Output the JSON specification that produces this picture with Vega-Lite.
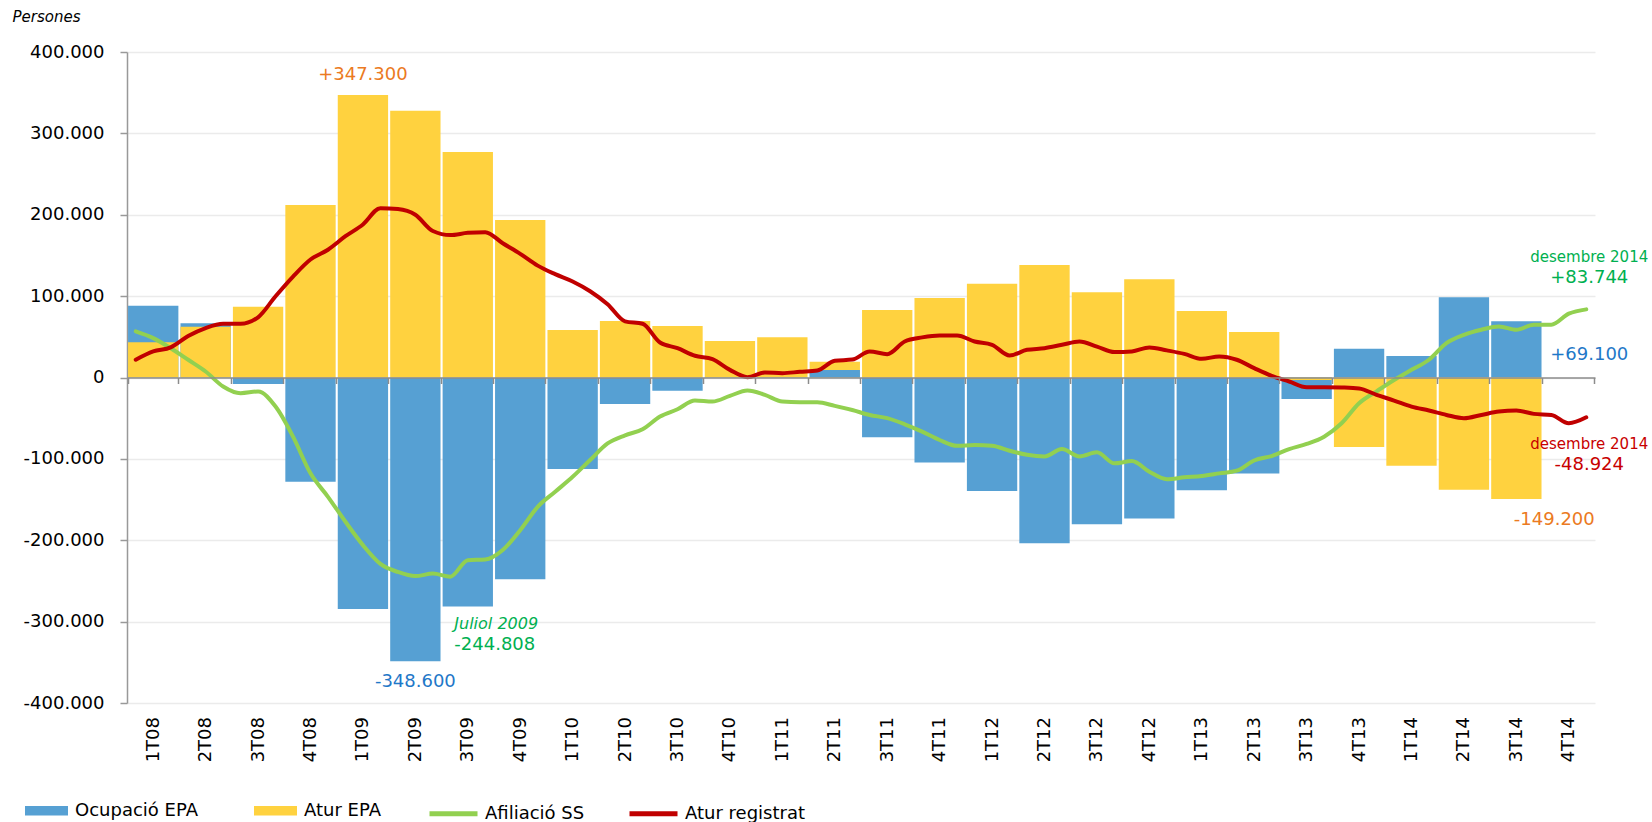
{
  "$schema": "https://vega.github.io/schema/vega-lite/v6.json",
  "width": 1468,
  "height": 651,
  "autosize": {"type": "none"},
  "padding": {"left": 127, "top": 52, "right": 57, "bottom": 119},
  "background": "white",
  "config": {
    "view": {"stroke": null},
    "font": "DejaVu Sans",
    "axis": {"labelFont": "DejaVu Sans", "labelFontSize": 18, "labelColor": "#000000", "titleFont": "DejaVu Sans"},
    "legend": {"labelFont": "DejaVu Sans", "labelFontSize": 18, "labelColor": "#000000"}
  },
  "layer": [
    {
      "layer": [
        {
          "data": {"values": [
            {"trimestre":"1T08","serie":"Ocupació EPA","valor":88200},{"trimestre":"1T08","serie":"Atur EPA","valor":43200},
            {"trimestre":"2T08","serie":"Ocupació EPA","valor":66600},{"trimestre":"2T08","serie":"Atur EPA","valor":62400},
            {"trimestre":"3T08","serie":"Ocupació EPA","valor":-8000},{"trimestre":"3T08","serie":"Atur EPA","valor":87000},
            {"trimestre":"4T08","serie":"Ocupació EPA","valor":-128000},{"trimestre":"4T08","serie":"Atur EPA","valor":212000},
            {"trimestre":"1T09","serie":"Ocupació EPA","valor":-284400},{"trimestre":"1T09","serie":"Atur EPA","valor":347300},
            {"trimestre":"2T09","serie":"Ocupació EPA","valor":-348600},{"trimestre":"2T09","serie":"Atur EPA","valor":327800},
            {"trimestre":"3T09","serie":"Ocupació EPA","valor":-281500},{"trimestre":"3T09","serie":"Atur EPA","valor":277000},
            {"trimestre":"4T09","serie":"Ocupació EPA","valor":-248000},{"trimestre":"4T09","serie":"Atur EPA","valor":193500},
            {"trimestre":"1T10","serie":"Ocupació EPA","valor":-112400},{"trimestre":"1T10","serie":"Atur EPA","valor":58400},
            {"trimestre":"2T10","serie":"Ocupació EPA","valor":-32500},{"trimestre":"2T10","serie":"Atur EPA","valor":69400},
            {"trimestre":"3T10","serie":"Ocupació EPA","valor":-16200},{"trimestre":"3T10","serie":"Atur EPA","valor":63300},
            {"trimestre":"4T10","serie":"Ocupació EPA","valor":-500},{"trimestre":"4T10","serie":"Atur EPA","valor":44800},
            {"trimestre":"1T11","serie":"Ocupació EPA","valor":500},{"trimestre":"1T11","serie":"Atur EPA","valor":49400},
            {"trimestre":"2T11","serie":"Atur EPA","valor":19400},{"trimestre":"2T11","serie":"Ocupació EPA","valor":9200},
            {"trimestre":"3T11","serie":"Ocupació EPA","valor":-73500},{"trimestre":"3T11","serie":"Atur EPA","valor":83000},
            {"trimestre":"4T11","serie":"Ocupació EPA","valor":-104600},{"trimestre":"4T11","serie":"Atur EPA","valor":97700},
            {"trimestre":"1T12","serie":"Ocupació EPA","valor":-139400},{"trimestre":"1T12","serie":"Atur EPA","valor":115200},
            {"trimestre":"2T12","serie":"Ocupació EPA","valor":-203700},{"trimestre":"2T12","serie":"Atur EPA","valor":138200},
            {"trimestre":"3T12","serie":"Ocupació EPA","valor":-180400},{"trimestre":"3T12","serie":"Atur EPA","valor":104700},
            {"trimestre":"4T12","serie":"Ocupació EPA","valor":-173400},{"trimestre":"4T12","serie":"Atur EPA","valor":120600},
            {"trimestre":"1T13","serie":"Ocupació EPA","valor":-138600},{"trimestre":"1T13","serie":"Atur EPA","valor":81700},
            {"trimestre":"2T13","serie":"Ocupació EPA","valor":-118100},{"trimestre":"2T13","serie":"Atur EPA","valor":55900},
            {"trimestre":"3T13","serie":"Ocupació EPA","valor":-26400},{"trimestre":"3T13","serie":"Atur EPA","valor":-3000},
            {"trimestre":"4T13","serie":"Ocupació EPA","valor":35400},{"trimestre":"4T13","serie":"Atur EPA","valor":-85400},
            {"trimestre":"1T14","serie":"Ocupació EPA","valor":26400},{"trimestre":"1T14","serie":"Atur EPA","valor":-108300},
            {"trimestre":"2T14","serie":"Ocupació EPA","valor":98500},{"trimestre":"2T14","serie":"Atur EPA","valor":-137800},
            {"trimestre":"3T14","serie":"Ocupació EPA","valor":69100},{"trimestre":"3T14","serie":"Atur EPA","valor":-149200}
          ]},
          "mark": {"type": "bar"},
          "encoding": {
            "x": {
              "field": "trimestre", "type": "nominal",
              "scale": {"domain": ["1T08","2T08","3T08","4T08","1T09","2T09","3T09","4T09","1T10","2T10","3T10","4T10","1T11","2T11","3T11","4T11","1T12","2T12","3T12","4T12","1T13","2T13","3T13","4T13","1T14","2T14","3T14","4T14"], "paddingInner": 0.04, "paddingOuter": 0.02},
              "axis": {"title": null, "orient": "bottom", "offset": -325.5, "domainColor": "#8c8c8c", "domainWidth": 1.5, "tickColor": "#8c8c8c", "tickWidth": 1.5, "tickSize": 6, "tickBand": "extent", "labelAngle": -90, "labelAlign": "right", "labelBaseline": "middle", "labelPadding": 333, "labelFont": "DejaVu Sans", "labelFontSize": 18, "labelColor": "#000000", "labelOverlap": false, "zindex": 1, "grid": false}
            },
            "y": {
              "field": "valor", "type": "quantitative", "stack": null,
              "scale": {"domain": [-400000, 400000], "nice": false, "zero": false},
              "axis": {"values": [-400000,-300000,-200000,-100000,0,100000,200000,300000,400000], "labelExpr": "(datum.value < 0 ? '-' : '') + replace(format(abs(datum.value), ','), ',', '.')", "title": "Persones", "titleAngle": 0, "titleAlign": "left", "titleBaseline": "alphabetic", "titleX": -115, "titleY": -31, "titleFontSize": 15, "titleFontStyle": "italic", "titleFontWeight": "normal", "titleColor": "#000000", "labelPadding": 16, "tickSize": 7, "tickColor": "#999999", "tickWidth": 1.5, "domainColor": "#999999", "domainWidth": 1.5, "grid": true, "gridColor": "#ebebeb", "gridWidth": 1.5}
            },
            "fill": {
              "field": "serie", "type": "nominal",
              "scale": {"domain": ["Ocupació EPA", "Atur EPA"], "range": ["#56A0D3", "#FFD23F"]},
              "legend": {"title": null, "orient": "none", "legendX": -102, "legendY": 737, "direction": "horizontal", "symbolType": "M-1,-0.22H1V0.22H-1Z", "symbolSize": 1849, "symbolStrokeWidth": 0, "symbolOpacity": 1, "labelOffset": 7, "columnPadding": 56, "padding": 0, "labelFontSize": 18, "labelFont": "DejaVu Sans", "labelColor": "#000000"}
            }
          }
        },
        {
          "data": {"values": [
            {"text": "+347.300", "trimestre": "1T09", "valor": 372000, "serie": "Atur EPA"},
            {"text": "-348.600", "trimestre": "2T09", "valor": -374400, "serie": "Ocupació EPA"}
          ]},
          "mark": {"type": "text", "font": "DejaVu Sans", "fontSize": 18, "baseline": "middle", "align": "center"},
          "encoding": {
            "x": {"field": "trimestre", "type": "nominal"},
            "y": {"field": "valor", "type": "quantitative"},
            "text": {"field": "text"},
            "color": {"field": "serie", "type": "nominal", "scale": {"domain": ["Ocupació EPA", "Atur EPA", "Afiliació SS", "Atur registrat"], "range": ["#1F78C8", "#EB7A22", "#00B050", "#C80000"]}, "legend": null}
          }
        }
      ]
    },
    {
      "layer": [
        {
          "data": {"values": [
            {"mes":"2008-01","serie":"Afiliació SS","valor":56700},{"mes":"2008-02","serie":"Afiliació SS","valor":48400},{"mes":"2008-03","serie":"Afiliació SS","valor":36000},{"mes":"2008-04","serie":"Afiliació SS","valor":21800},{"mes":"2008-05","serie":"Afiliació SS","valor":7400},{"mes":"2008-06","serie":"Afiliació SS","valor":-11000},{"mes":"2008-07","serie":"Afiliació SS","valor":-19300},{"mes":"2008-08","serie":"Afiliació SS","valor":-17200},{"mes":"2008-09","serie":"Afiliació SS","valor":-35700},{"mes":"2008-10","serie":"Afiliació SS","valor":-72700},{"mes":"2008-11","serie":"Afiliació SS","valor":-117800},{"mes":"2008-12","serie":"Afiliació SS","valor":-146600},
            {"mes":"2009-01","serie":"Afiliació SS","valor":-177300},{"mes":"2009-02","serie":"Afiliació SS","valor":-206000},{"mes":"2009-03","serie":"Afiliació SS","valor":-229000},{"mes":"2009-04","serie":"Afiliació SS","valor":-239000},{"mes":"2009-05","serie":"Afiliació SS","valor":-244000},{"mes":"2009-06","serie":"Afiliació SS","valor":-241000},{"mes":"2009-07","serie":"Afiliació SS","valor":-244808},{"mes":"2009-08","serie":"Afiliació SS","valor":-224500},{"mes":"2009-09","serie":"Afiliació SS","valor":-223700},{"mes":"2009-10","serie":"Afiliació SS","valor":-212000},{"mes":"2009-11","serie":"Afiliació SS","valor":-187600},{"mes":"2009-12","serie":"Afiliació SS","valor":-158900},
            {"mes":"2010-01","serie":"Afiliació SS","valor":-140400},{"mes":"2010-02","serie":"Afiliació SS","valor":-122000},{"mes":"2010-03","serie":"Afiliació SS","valor":-101400},{"mes":"2010-04","serie":"Afiliació SS","valor":-81000},{"mes":"2010-05","serie":"Afiliació SS","valor":-71000},{"mes":"2010-06","serie":"Afiliació SS","valor":-63600},{"mes":"2010-07","serie":"Afiliació SS","valor":-48000},{"mes":"2010-08","serie":"Afiliació SS","valor":-39000},{"mes":"2010-09","serie":"Afiliació SS","valor":-28300},{"mes":"2010-10","serie":"Afiliació SS","valor":-29600},{"mes":"2010-11","serie":"Afiliació SS","valor":-22600},{"mes":"2010-12","serie":"Afiliació SS","valor":-16000},
            {"mes":"2011-01","serie":"Afiliació SS","valor":-21300},{"mes":"2011-02","serie":"Afiliació SS","valor":-29600},{"mes":"2011-03","serie":"Afiliació SS","valor":-30400},{"mes":"2011-04","serie":"Afiliació SS","valor":-30400},{"mes":"2011-05","serie":"Afiliació SS","valor":-34900},{"mes":"2011-06","serie":"Afiliació SS","valor":-40000},{"mes":"2011-07","serie":"Afiliació SS","valor":-46000},{"mes":"2011-08","serie":"Afiliació SS","valor":-50000},{"mes":"2011-09","serie":"Afiliació SS","valor":-57500},{"mes":"2011-10","serie":"Afiliació SS","valor":-66500},{"mes":"2011-11","serie":"Afiliació SS","valor":-76800},{"mes":"2011-12","serie":"Afiliació SS","valor":-84000},
            {"mes":"2012-01","serie":"Afiliació SS","valor":-83000},{"mes":"2012-02","serie":"Afiliació SS","valor":-84000},{"mes":"2012-03","serie":"Afiliació SS","valor":-90000},{"mes":"2012-04","serie":"Afiliació SS","valor":-95000},{"mes":"2012-05","serie":"Afiliació SS","valor":-97000},{"mes":"2012-06","serie":"Afiliació SS","valor":-88000},{"mes":"2012-07","serie":"Afiliació SS","valor":-97000},{"mes":"2012-08","serie":"Afiliació SS","valor":-92000},{"mes":"2012-09","serie":"Afiliació SS","valor":-105500},{"mes":"2012-10","serie":"Afiliació SS","valor":-102600},{"mes":"2012-11","serie":"Afiliació SS","valor":-115800},{"mes":"2012-12","serie":"Afiliació SS","valor":-125000},
            {"mes":"2013-01","serie":"Afiliació SS","valor":-122700},{"mes":"2013-02","serie":"Afiliació SS","valor":-121000},{"mes":"2013-03","serie":"Afiliació SS","valor":-117800},{"mes":"2013-04","serie":"Afiliació SS","valor":-114500},{"mes":"2013-05","serie":"Afiliació SS","valor":-102000},{"mes":"2013-06","serie":"Afiliació SS","valor":-96500},{"mes":"2013-07","serie":"Afiliació SS","valor":-88000},{"mes":"2013-08","serie":"Afiliació SS","valor":-81700},{"mes":"2013-09","serie":"Afiliació SS","valor":-72700},{"mes":"2013-10","serie":"Afiliació SS","valor":-56200},{"mes":"2013-11","serie":"Afiliació SS","valor":-31600},{"mes":"2013-12","serie":"Afiliació SS","valor":-17000},
            {"mes":"2014-01","serie":"Afiliació SS","valor":-3000},{"mes":"2014-02","serie":"Afiliació SS","valor":9400},{"mes":"2014-03","serie":"Afiliació SS","valor":21800},{"mes":"2014-04","serie":"Afiliació SS","valor":42300},{"mes":"2014-05","serie":"Afiliació SS","valor":52500},{"mes":"2014-06","serie":"Afiliació SS","valor":58700},{"mes":"2014-07","serie":"Afiliació SS","valor":62800},{"mes":"2014-08","serie":"Afiliació SS","valor":58700},{"mes":"2014-09","serie":"Afiliació SS","valor":64900},{"mes":"2014-10","serie":"Afiliació SS","valor":64900},{"mes":"2014-11","serie":"Afiliació SS","valor":78400},{"mes":"2014-12","serie":"Afiliació SS","valor":83744},
            {"mes":"2008-01","serie":"Atur registrat","valor":21800},{"mes":"2008-02","serie":"Atur registrat","valor":32000},{"mes":"2008-03","serie":"Atur registrat","valor":37000},{"mes":"2008-04","serie":"Atur registrat","valor":51000},{"mes":"2008-05","serie":"Atur registrat","valor":60800},{"mes":"2008-06","serie":"Atur registrat","valor":66000},{"mes":"2008-07","serie":"Atur registrat","valor":66000},{"mes":"2008-08","serie":"Atur registrat","valor":74000},{"mes":"2008-09","serie":"Atur registrat","valor":99800},{"mes":"2008-10","serie":"Atur registrat","valor":124000},{"mes":"2008-11","serie":"Atur registrat","valor":145000},{"mes":"2008-12","serie":"Atur registrat","valor":157000},
            {"mes":"2009-01","serie":"Atur registrat","valor":173600},{"mes":"2009-02","serie":"Atur registrat","valor":188000},{"mes":"2009-03","serie":"Atur registrat","valor":208000},{"mes":"2009-04","serie":"Atur registrat","valor":207000},{"mes":"2009-05","serie":"Atur registrat","valor":200000},{"mes":"2009-06","serie":"Atur registrat","valor":180000},{"mes":"2009-07","serie":"Atur registrat","valor":175000},{"mes":"2009-08","serie":"Atur registrat","valor":177800},{"mes":"2009-09","serie":"Atur registrat","valor":178600},{"mes":"2009-10","serie":"Atur registrat","valor":165000},{"mes":"2009-11","serie":"Atur registrat","valor":152000},{"mes":"2009-12","serie":"Atur registrat","valor":137500},
            {"mes":"2010-01","serie":"Atur registrat","valor":127000},{"mes":"2010-02","serie":"Atur registrat","valor":118000},{"mes":"2010-03","serie":"Atur registrat","valor":106000},{"mes":"2010-04","serie":"Atur registrat","valor":90000},{"mes":"2010-05","serie":"Atur registrat","valor":69000},{"mes":"2010-06","serie":"Atur registrat","valor":66000},{"mes":"2010-07","serie":"Atur registrat","valor":43000},{"mes":"2010-08","serie":"Atur registrat","valor":36000},{"mes":"2010-09","serie":"Atur registrat","valor":26700},{"mes":"2010-10","serie":"Atur registrat","valor":22600},{"mes":"2010-11","serie":"Atur registrat","valor":9400},{"mes":"2010-12","serie":"Atur registrat","valor":400},
            {"mes":"2011-01","serie":"Atur registrat","valor":6200},{"mes":"2011-02","serie":"Atur registrat","valor":5300},{"mes":"2011-03","serie":"Atur registrat","valor":7000},{"mes":"2011-04","serie":"Atur registrat","valor":8600},{"mes":"2011-05","serie":"Atur registrat","valor":20500},{"mes":"2011-06","serie":"Atur registrat","valor":22000},{"mes":"2011-07","serie":"Atur registrat","valor":32000},{"mes":"2011-08","serie":"Atur registrat","valor":28700},{"mes":"2011-09","serie":"Atur registrat","valor":44300},{"mes":"2011-10","serie":"Atur registrat","valor":49300},{"mes":"2011-11","serie":"Atur registrat","valor":51700},{"mes":"2011-12","serie":"Atur registrat","valor":51700},
            {"mes":"2012-01","serie":"Atur registrat","valor":44300},{"mes":"2012-02","serie":"Atur registrat","valor":40200},{"mes":"2012-03","serie":"Atur registrat","valor":27000},{"mes":"2012-04","serie":"Atur registrat","valor":34000},{"mes":"2012-05","serie":"Atur registrat","valor":36000},{"mes":"2012-06","serie":"Atur registrat","valor":40200},{"mes":"2012-07","serie":"Atur registrat","valor":44300},{"mes":"2012-08","serie":"Atur registrat","valor":38000},{"mes":"2012-09","serie":"Atur registrat","valor":31200},{"mes":"2012-10","serie":"Atur registrat","valor":32000},{"mes":"2012-11","serie":"Atur registrat","valor":37000},{"mes":"2012-12","serie":"Atur registrat","valor":33300},
            {"mes":"2013-01","serie":"Atur registrat","valor":29000},{"mes":"2013-02","serie":"Atur registrat","valor":23000},{"mes":"2013-03","serie":"Atur registrat","valor":25900},{"mes":"2013-04","serie":"Atur registrat","valor":21800},{"mes":"2013-05","serie":"Atur registrat","valor":11500},{"mes":"2013-06","serie":"Atur registrat","valor":2000},{"mes":"2013-07","serie":"Atur registrat","valor":-4900},{"mes":"2013-08","serie":"Atur registrat","valor":-11900},{"mes":"2013-09","serie":"Atur registrat","valor":-11900},{"mes":"2013-10","serie":"Atur registrat","valor":-12300},{"mes":"2013-11","serie":"Atur registrat","valor":-13500},{"mes":"2013-12","serie":"Atur registrat","valor":-21300},
            {"mes":"2014-01","serie":"Atur registrat","valor":-28300},{"mes":"2014-02","serie":"Atur registrat","valor":-35700},{"mes":"2014-03","serie":"Atur registrat","valor":-40600},{"mes":"2014-04","serie":"Atur registrat","valor":-46000},{"mes":"2014-05","serie":"Atur registrat","valor":-50000},{"mes":"2014-06","serie":"Atur registrat","valor":-46000},{"mes":"2014-07","serie":"Atur registrat","valor":-41900},{"mes":"2014-08","serie":"Atur registrat","valor":-40600},{"mes":"2014-09","serie":"Atur registrat","valor":-44700},{"mes":"2014-10","serie":"Atur registrat","valor":-46000},{"mes":"2014-11","serie":"Atur registrat","valor":-56200},{"mes":"2014-12","serie":"Atur registrat","valor":-48924}
          ]},
          "mark": {"type": "line", "strokeWidth": 4, "interpolate": "monotone", "strokeCap": "round", "strokeJoin": "round"},
          "encoding": {
            "x": {"field": "mes", "type": "ordinal", "scale": {"type": "point", "padding": 0.5}, "axis": null},
            "y": {"field": "valor", "type": "quantitative"},
            "stroke": {
              "field": "serie", "type": "nominal",
              "scale": {"domain": ["Afiliació SS", "Atur registrat"], "range": ["#92D050", "#C00000"]},
              "legend": {"title": null, "orient": "none", "legendX": 300, "legendY": 735, "direction": "horizontal", "symbolType": "stroke", "symbolSize": 2304, "symbolStrokeWidth": 5, "labelOffset": 5, "columnPadding": 34, "padding": 0, "labelFontSize": 18, "labelFont": "DejaVu Sans", "labelColor": "#000000"}
            }
          }
        },
        {
          "data": {"values": [
            {"text": "+83.744", "mes": "2014-12", "valor": 122000, "serie": "Afiliació SS"},
            {"text": "+69.100", "mes": "2014-12", "valor": 27600, "serie": "Ocupació EPA"},
            {"text": "-48.924", "mes": "2014-12", "valor": -107800, "serie": "Atur registrat"},
            {"text": "-149.200", "mes": "2014-10", "valor": -175000, "serie": "Atur EPA"}
          ]},
          "mark": {"type": "text", "font": "DejaVu Sans", "fontSize": 18, "baseline": "middle", "align": "center", "dx": 3},
          "encoding": {
            "x": {"field": "mes", "type": "ordinal", "axis": null},
            "y": {"field": "valor", "type": "quantitative"},
            "text": {"field": "text"},
            "color": {"field": "serie", "type": "nominal", "legend": null}
          }
        },
        {
          "data": {"values": [
            {"text": "desembre 2014", "mes": "2014-12", "valor": 147600, "serie": "Afiliació SS"},
            {"text": "desembre 2014", "mes": "2014-12", "valor": -82300, "serie": "Atur registrat"}
          ]},
          "mark": {"type": "text", "font": "DejaVu Sans", "fontSize": 15, "baseline": "middle", "align": "center", "dx": 3},
          "encoding": {
            "x": {"field": "mes", "type": "ordinal", "axis": null},
            "y": {"field": "valor", "type": "quantitative"},
            "text": {"field": "text"},
            "color": {"field": "serie", "type": "nominal", "legend": null}
          }
        },
        {
          "data": {"values": [
            {"text": "Juliol 2009", "mes": "2009-07", "valor": -302500, "serie": "Afiliació SS"}
          ]},
          "mark": {"type": "text", "font": "DejaVu Sans", "fontSize": 16, "fontStyle": "italic", "baseline": "middle", "align": "left", "dx": 4},
          "encoding": {
            "x": {"field": "mes", "type": "ordinal", "axis": null},
            "y": {"field": "valor", "type": "quantitative"},
            "text": {"field": "text"},
            "color": {"field": "serie", "type": "nominal", "legend": null}
          }
        },
        {
          "data": {"values": [
            {"text": "-244.808", "mes": "2009-07", "valor": -329000, "serie": "Afiliació SS"}
          ]},
          "mark": {"type": "text", "font": "DejaVu Sans", "fontSize": 18, "baseline": "middle", "align": "left", "dx": 4},
          "encoding": {
            "x": {"field": "mes", "type": "ordinal", "axis": null},
            "y": {"field": "valor", "type": "quantitative"},
            "text": {"field": "text"},
            "color": {"field": "serie", "type": "nominal", "legend": null}
          }
        }
      ]
    }
  ],
  "resolve": {"scale": {"x": "independent"}}
}
